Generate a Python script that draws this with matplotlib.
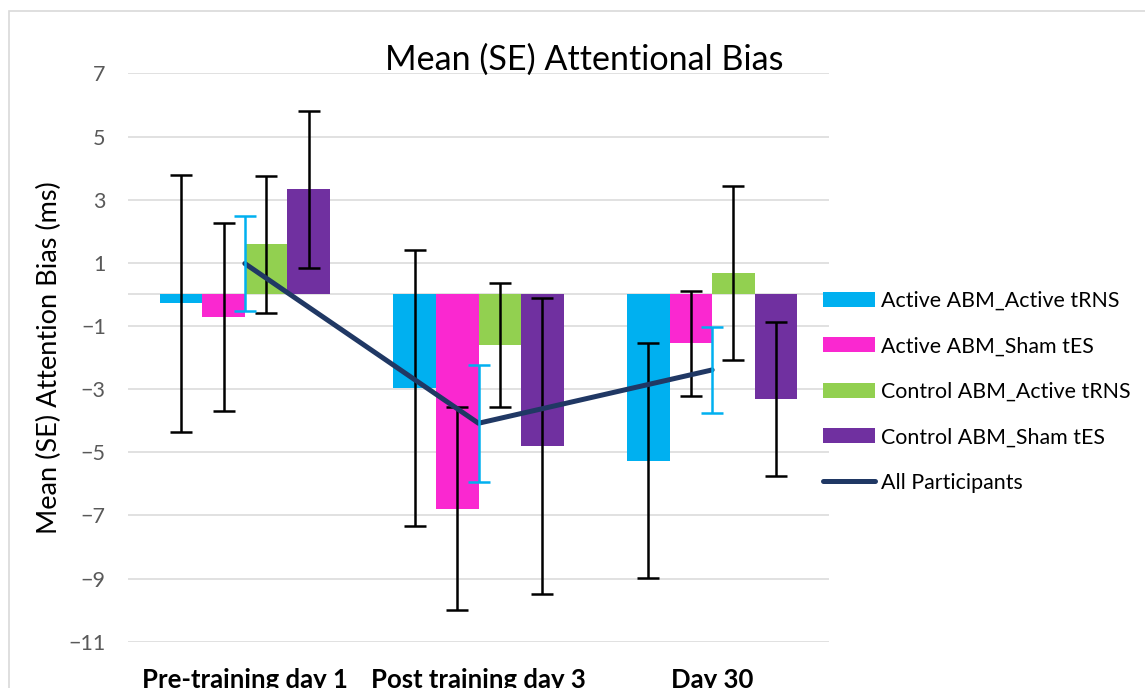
import numpy as np
import matplotlib
matplotlib.use('Agg')
import matplotlib.pyplot as plt
from matplotlib.patches import Rectangle

plt.rcParams['font.family'] = ['Lato', 'DejaVu Sans']

# attentional bias per session (ms), mean and SE
sessions = ['Pre-training day 1', 'Post training day 3', 'Day 30']
groups = ['Active ABM_Active tRNS', 'Active ABM_Sham tES',
          'Control ABM_Active tRNS', 'Control ABM_Sham tES']
act_trns = [-0.28, -2.96, -5.27]
act_trns_se = [4.08, 4.37, 3.72]
act_sham = [-0.71, -6.79, -1.55]
act_sham_se = [2.98, 3.22, 1.66]
ctl_trns = [1.59, -1.60, 0.68]
ctl_trns_se = [2.17, 1.95, 2.75]
ctl_sham = [3.33, -4.81, -3.31]
ctl_sham_se = [2.48, 4.69, 2.44]
all_part = [0.98, -4.08, -2.39]
all_part_se = [1.50, 1.85, 1.37]

means = [act_trns, act_sham, ctl_trns, ctl_sham]
ses = [act_trns_se, act_sham_se, ctl_trns_se, ctl_sham_se]
colors = ['#00B0F0', '#FA28D0', '#92D050', '#7030A0']
line_color = '#203864'
grid_color = '#D9D9D9'

fig = plt.figure(figsize=(11.45, 6.88), dpi=100)
ax = fig.add_axes([128 / 1145, 1 - 641.7 / 688, 701 / 1145, 568.2 / 688])

x = np.arange(len(sessions))
width = 0.182
handles = []
for i in range(4):
    xs = x + (i - 1.5) * width
    b = ax.bar(xs, means[i], width, color=colors[i], label=groups[i], zorder=2)
    handles.append(b)
    ax.errorbar(xs, means[i], yerr=ses[i], fmt='none', ecolor='black',
                elinewidth=1.8, capsize=8, capthick=1.8, zorder=3)

ln, = ax.plot(x, all_part, color=line_color, lw=3.6, solid_capstyle='round',
              label='All Participants', zorder=4)
handles.append(ln)
ax.errorbar(x, all_part, yerr=all_part_se, fmt='none', ecolor='#00B0F0',
            elinewidth=1.8, capsize=8, capthick=1.8, zorder=5)

ax.set_xlim(-0.5, 2.5)
ax.set_ylim(-11, 7)
ax.set_yticks(np.arange(-11, 8, 2))
ax.yaxis.grid(True, color=grid_color, lw=1.1, zorder=0)
ax.axhline(0, color=grid_color, lw=1.1, zorder=1)
ax.set_axisbelow(True)
for s in ax.spines.values():
    s.set_visible(False)

ax.set_xticks(x)
ax.set_xticklabels(sessions, fontsize=18.5, fontweight='bold')
ax.tick_params(axis='x', length=0, pad=19)
ax.tick_params(axis='y', length=0, pad=16, labelsize=15.5, labelcolor='#595959')

ax.set_ylabel('Mean (SE) Attention Bias (ms)', fontsize=19.5)
ax.yaxis.set_label_coords(-0.094, 0.5)

fig.text(0.51, 1 - 70 / 688, 'Mean (SE) Attentional Bias', fontsize=24.6,
         ha='center', va='baseline')

fig.legend(handles=handles, loc='upper left',
           bbox_to_anchor=(823 / 1145, 1 - 291 / 688),
           frameon=False, fontsize=15.4, handlelength=2.43, handletextpad=0.28,
           labelspacing=1.19, borderpad=0, borderaxespad=0)

# chart area outline
fig.patches.append(Rectangle((9 / 1145, -0.1), 2, 1.1 - 11 / 688,
                             transform=fig.transFigure, fill=False,
                             edgecolor=grid_color, lw=1.2))

fig.savefig('out.png', dpi=100)
